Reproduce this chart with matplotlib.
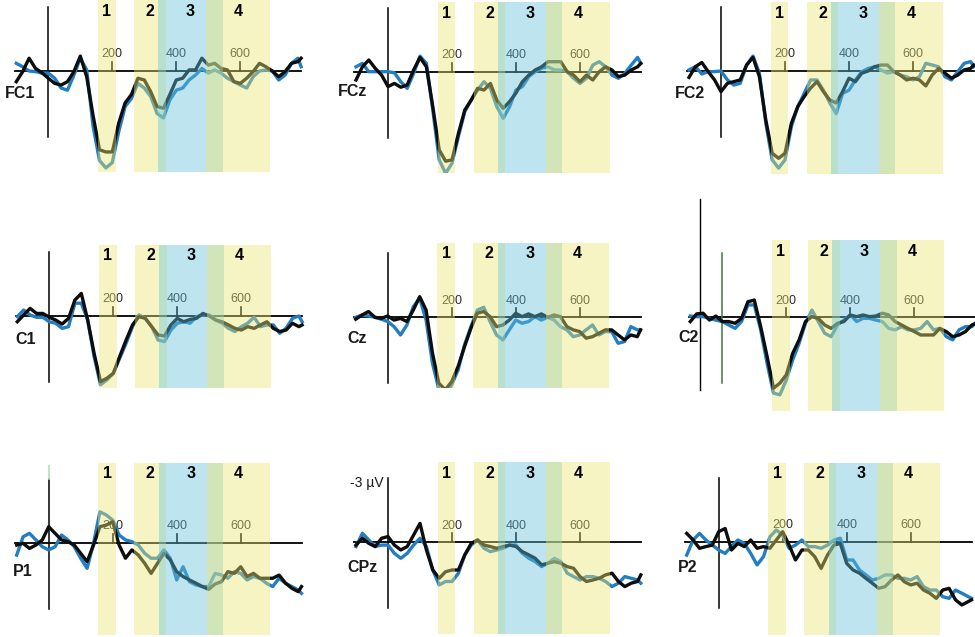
import matplotlib
matplotlib.use('Agg')
import matplotlib.pyplot as plt

plt.rcParams['font.family'] = ['Liberation Sans', 'DejaVu Sans']

# sample times in ms
times = list(range(-100, 781, 20)) + [790]

# analysis windows
band_names = ['1', '2', '3', '4']
band_starts = [155, 268, 344, 494]
band_ends = [210, 367, 545, 693]
band_colors = ['#ece770', '#ece770', '#64c3db', '#ece770']

tick_times = [200, 400, 600]

# amplitudes in microvolts (positive plotted downwards)
fc1_blue = [-0.36, -0.2, 0, 0.03, 0.1, 0.1, 0.34, 0.8, 0.9, 0.19, -0.6, -0.05, 2.6, 4.2, 4.55,
            4.3, 2.85, 1.67, 1.28, 0.58, 0.8, 1.2, 2.0, 2.2, 1.35, 0.9, 0.8, 0.42, 0.19, -0.12,
            0.1, -0.05, 0.1, 0.34, 0.5, 0.66, 0.8, 0.27, 0, -0.05, 0, 0.42, 0.19, -0.36, -0.6, -0.2]
fc1_black = [0.5, 0.03, -0.6, -0.12, 0.08, 0.34, 0.58, 0.66, 0.5, 0.03, -0.7, 0.27, 2.1, 3.7, 3.8,
             3.8, 2.45, 1.5, 1.1, 0.34, 0.42, 0.97, 1.67, 1.75, 1.1, 0.42, 0.34, -0.05, -0.05, -0.6,
             -0.28, -0.36, -0.12, -0.05, 0.5, 0.58, 0.34, 0.03, -0.36, -0.2, 0, 0.27, 0.03, -0.36, -0.44, -0.6]

fcz_blue = [-0.23, -0.39, 0, 0, 0, 0, 0.05, 0.47, 0.78, 0.08, -0.73, -0.39, 1.8, 4.14, 4.77,
            4.3, 3.05, 1.87, 1.33, 0.86, 0.47, 0.78, 1.64, 2.19, 1.64, 0.86, 0.7, 0.23, 0, -0.16,
            -0.23, -0.08, -0.08, 0, 0.31, 0.55, 0.31, -0.31, -0.47, -0.23, 0.16, 0.31, 0.08, -0.31, -0.67, -0.39]
fcz_black = [0.39, -0.23, -0.55, -0.16, 0.16, 0.7, 0.55, 0.73, 0.62, -0.08, -0.67, -0.23, 1.64, 3.67, 4.2,
             4.14, 2.9, 1.8, 1.33, 0.78, 0.86, 0.55, 1.33, 1.72, 1.4, 1.0, 0.47, 0.16, -0.08, -0.23,
             -0.47, -0.47, -0.47, 0, 0.16, 0.47, 0.16, 0.39, 0, -0.23, -0.08, 0.23, 0.16, -0.08, -0.23, -0.39]

fc2_blue = [-0.05, -0.2, 0.14, 0.03, 0.03, 0, 0.42, 0.66, 0.58, -0.28, -0.7, 0.1, 2.45, 4.17, 4.56,
            4.17, 2.6, 1.67, 1.05, 0.42, 0.42, 0.9, 1.5, 2.0, 1.05, 0.9, 0.42, 0.03, -0.12, -0.2,
            -0.05, 0.1, 0.03, 0.19, 0.27, 0.42, 0.27, -0.36, -0.28, -0.2, 0.27, 0.42, 0.03, -0.36, -0.44, -0.2]
fc2_black = [0.3, -0.2, -0.4, 0.03, 0.42, 0.97, 0.58, 0.5, 0.42, -0.28, -0.64, 0.27, 2.3, 3.86, 4.1,
             3.86, 2.45, 1.67, 1.2, 0.8, 0.5, 0.97, 1.36, 1.5, 0.97, 0.34, 0.5, 0.1, 0, -0.2,
             -0.28, -0.28, 0.03, 0.19, 0.42, 0.34, 0.42, 0.7, 0.19, -0.12, 0.1, 0.34, 0.19, -0.05, -0.12, -0.28]

c1_blue = [0.03, -0.28, -0.05, 0.06, 0.06, 0.27, 0.34, 0.58, 0.5, -0.6, -0.6, 0.19, 1.9, 3.23, 3.0,
           2.69, 1.98, 1.28, 0.5, -0.05, 0.11, 0.5, 1.13, 1.2, 0.66, 0.34, 0.27, 0.34, 0.03, -0.05,
           -0.05, 0.19, 0.34, 0.58, 0.73, 0.5, 0.34, 0.06, 0.5, 0.42, 0.42, 0.81, 0.58, 0.11, 0, 0.27]
c1_black = [0.27, -0.05, -0.36, -0.12, -0.12, 0.06, 0.19, 0.38, 0.11, -0.75, -1.06, 0.19, 1.75, 3.08, 2.92,
            2.69, 1.9, 1.13, 0.42, 0.03, 0.11, 0.5, 0.89, 0.94, 0.42, 0.11, 0.27, 0.16, 0.11, -0.12,
            0, 0.19, 0.27, 0.42, 0.58, 0.66, 0.5, 0.58, 0.42, 0.27, 0.58, 0.73, 0.66, 0.34, 0.5, 0.42]

cz_blue = [0, -0.11, -0.06, 0, 0.09, 0.2, 0.44, 0.83, 0.36, -0.5, -0.89, 0.13, 2.16, 3.4, 3.72,
           3.17, 2.47, 1.3, 0.44, -0.34, -0.47, 0.2, 0.83, 1.06, 0.59, 0.13, 0.28, 0.2, -0.03, 0.13,
           0, 0.13, 0.44, 0.59, 0.91, 0.83, 0.59, 0.36, 0.83, 0.67, 0.67, 1.22, 1.14, 0.44, 0.59, 0.59]
cz_black = [0.09, -0.11, -0.27, 0, 0.05, -0.06, 0.13, 0.05, 0.2, -0.34, -0.97, -0.34, 1.69, 3.1, 3.4,
            3.02, 2.31, 1.38, 0.52, -0.19, -0.27, -0.03, 0.44, 0.36, 0.13, -0.19, -0.03, -0.16, -0.03, -0.16,
            0, -0.11, -0.03, 0.44, 0.59, 0.67, 0.98, 0.91, 0.75, 0.59, 0.59, 0.83, 1.06, 0.83, 0.91, 0.59]

c2_blue = [-0.06, -0.03, -0.03, 0.05, 0.13, 0.2, 0.36, 0.52, 0.2, -0.58, -0.58, 0.59, 2.16, 3.56, 3.64,
           2.94, 2.0, 1.22, 0.28, -0.34, 0.2, 0.75, 0.91, 0.36, 0.13, -0.11, 0.2, 0.05, 0.05, 0.13,
           0.2, 0.52, 0.59, 0.44, 0.59, 0.59, 0.52, 0.2, 0.59, 0.52, 0.91, 1.06, 0.59, 0.44, 0.44, 0.3]
c2_black = [0.2, -0.16, -0.19, 0.13, -0.06, 0.2, 0.2, 0.28, 0.05, -0.73, -0.81, 0.44, 1.84, 3.33, 3.09,
            2.7, 1.69, 1.06, 0.2, -0.03, 0.05, 0.36, 0.52, 0.28, 0.2, -0.11, -0.03, -0.11, -0.03, -0.06,
            -0.19, -0.11, 0.2, 0.36, 0.52, 0.67, 0.83, 0.83, 0.83, 0.52, 0.67, 0.91, 0.83, 0.67, 0.36, 0.3]

p1_blue = [0.58, -0.28, -0.44, -0.13, 0.19, 0.34, 0.19, -0.36, -0.13, 0.19, 0.73, 1.2, 0.03, -1.45, -1.3,
           -1.06, -0.36, -0.13, -0.05, 0.11, 0.5, 0.73, 0.73, 0.34, 0.73, 1.75, 1.13, 1.83, 1.98, 2.06,
           2.06, 1.44, 1.52, 1.67, 1.36, 1.44, 1.75, 1.59, 1.67, 1.9, 2.06, 1.67, 1.9, 2.06, 2.22, 2.38]
p1_black = [0.11, 0.03, 0.27, 0.11, -0.13, -0.75, -0.44, -0.13, -0.05, 0.11, 0.5, 0.89, 0.11, -0.75, -0.83,
            -0.98, 0.11, 0.73, 0.34, 0.58, 0.97, 1.44, 0.97, 0.5, 0.81, 1.36, 1.59, 1.75, 1.9, 2.06,
            2.19, 1.94, 1.83, 1.36, 1.44, 1.13, 1.59, 1.44, 1.67, 1.67, 1.67, 1.52, 1.9, 2.14, 2.3, 2.06]

cpz_blue = [0.2, -0.42, -0.11, 0.2, 0.13, 0.13, 0.52, 0.75, 0.52, 0.13, -0.19, 0.2, 1.3, 2.0, 1.84,
            1.84, 1.45, 0.59, 0.13, -0.11, 0.28, 0.44, 0.36, 0.28, 0.13, 0.13, 0.52, 0.75, 0.91, 1.14,
            0.98, 0.75, 0.91, 1.45, 1.61, 1.77, 1.61, 1.61, 1.69, 1.84, 2.08, 1.92, 1.61, 1.69, 1.77, 1.92]
cpz_black = [0.13, -0.19, 0.05, 0.2, -0.19, -0.27, 0.13, 0.36, 0.2, -0.34, -0.89, 0.36, 1.3, 1.69, 1.38,
             1.3, 1.3, 0.59, 0.05, -0.11, 0.13, 0.2, 0.28, 0.2, 0.13, 0.2, 0.44, 0.59, 0.75, 1.06,
             0.98, 0.91, 0.98, 1.14, 1.22, 1.61, 1.84, 1.77, 1.69, 1.53, 1.45, 1.84, 2.08, 1.92, 1.84, 1.53]

p2_blue = [0.63, -0.08, -0.39, -0.08, 0.16, 0.39, 0.55, 0.23, -0.08, 0.08, 0.55, 1.09, 0.7, -0.23, -0.55,
           -0.31, 0.31, 0.16, -0.08, 0.23, 0.23, 0.31, 0.16, -0.08, -0.16, 0.86, 0.86, 1.33, 1.56, 1.8,
           1.72, 1.56, 1.56, 1.72, 1.72, 1.8, 1.64, 2.11, 2.27, 2.27, 2.58, 2.66, 2.27, 2.42, 2.58, 2.66]
p2_black = [-0.39, -0.08, 0.31, 0.23, 0.16, -0.47, -0.62, 0.39, 0.08, 0.23, -0.08, 0.31, 0.23, 0.31, -0.08,
            -0.47, 0.16, 0.86, 0.39, 0.39, 0.7, 1.25, 0.63, 0.16, 0.08, 1.02, 1.33, 1.48, 1.72, 1.95,
            2.19, 2.11, 1.8, 1.56, 1.88, 2.03, 1.95, 2.27, 2.42, 2.66, 2.27, 2.19, 2.73, 2.97, 2.81, 2.73]

# figure geometry (pixels)
W, H = 975, 637
PX_MS = 0.32
PX_UV = 21.3
BLUE = '#237dc3'
BLACK = '#0d0d0d'

# name, blue, black, t=0 x, zero y, band top, band bottom, label x, label y
panels = [
    ('FC1', fc1_blue, fc1_black, 48.3, 71.0, 0, 172, 5, 93),
    ('FCz', fcz_blue, fcz_black, 388.0, 71.7, 2, 173, 338, 91),
    ('FC2', fc2_blue, fc2_black, 721.0, 71.0, 2, 174, 675, 94),
    ('C1', c1_blue, c1_black, 49.3, 316.0, 245, 388, 15, 339),
    ('Cz', cz_blue, cz_black, 387.7, 317.3, 243, 388, 347, 339),
    ('C2', c2_blue, c2_black, 722.3, 317.3, 240, 411, 678, 337),
    ('P1', p1_blue, p1_black, 48.7, 542.7, 463, 635, 13, 572),
    ('CPz', cpz_blue, cpz_black, 388.0, 542.3, 462, 634, 347, 567),
    ('P2', p2_blue, p2_black, 718.7, 541.7, 463, 635, 678, 567),
]

fig = plt.figure(figsize=(W / 100, H / 100), dpi=100)

for name, blue, black, x0, y0, top, bottom, lx, ly in panels:
    t_lo, t_hi = -150, 800
    left = x0 + t_lo * PX_MS
    width = (t_hi - t_lo) * PX_MS
    ax = fig.add_axes([left / W, 1 - bottom / H, width / W, (bottom - top) / H])
    ax.set_xlim(t_lo, t_hi)
    v_top = (top - y0) / PX_UV
    ax.set_ylim((bottom - y0) / PX_UV, v_top)
    ax.axis('off')

    # baseline, time axis ticks and amplitude axis
    ax.plot([-105, 790], [0, 0], color='black', lw=1.3, zorder=1)
    for tk in tick_times:
        ax.plot([tk, tk], [0, -0.42], color='black', lw=1.2, zorder=1)
        ax.text(tk, -0.78, str(tk), ha='center', va='center', fontsize=9,
                color='#2a2a2a', zorder=1)
    axis_color = '#3c7a3c' if name == 'C2' else 'black'
    ax.plot([0, 0], [-3, 3.1], color=axis_color, lw=1.1, zorder=1, clip_on=False)
    if name == 'C2':
        ax.plot([-70, -70], [-5.55, 3.41], color='black', lw=1.0, zorder=1, clip_on=False)
    if name == 'P1':
        ax.plot([0, 0], [-3.6, -3.0], color='#a8e6a8', lw=1.2, zorder=1, clip_on=False)
    if name == 'CPz':
        ax.text(-15, -2.78, '-3 \u00b5V', ha='right', va='center', fontsize=10, color='#1a1a1a')

    # waveforms
    ax.plot(times, blue, color=BLUE, lw=2.4, zorder=2, solid_joinstyle='round')
    ax.plot(times, black, color=BLACK, lw=2.4, zorder=2.1, solid_joinstyle='round')

    # shaded windows drawn over the traces
    for s, e, c, bn in zip(band_starts, band_ends, band_colors, band_names):
        ax.axvspan(s, e, color=c, alpha=0.42, lw=0, zorder=3)
        ax.text((s + e) / 2, v_top + 11 / PX_UV, bn, ha='center', va='center',
                fontsize=11.5, fontweight='bold', color='black', zorder=4, clip_on=False)

    ax.text((lx - x0) / PX_MS, (ly - y0) / PX_UV, name, ha='left', va='center',
            fontsize=11.5, fontweight='bold', color='#1a1a1a', clip_on=False)

fig.savefig('out.png', dpi=100)
